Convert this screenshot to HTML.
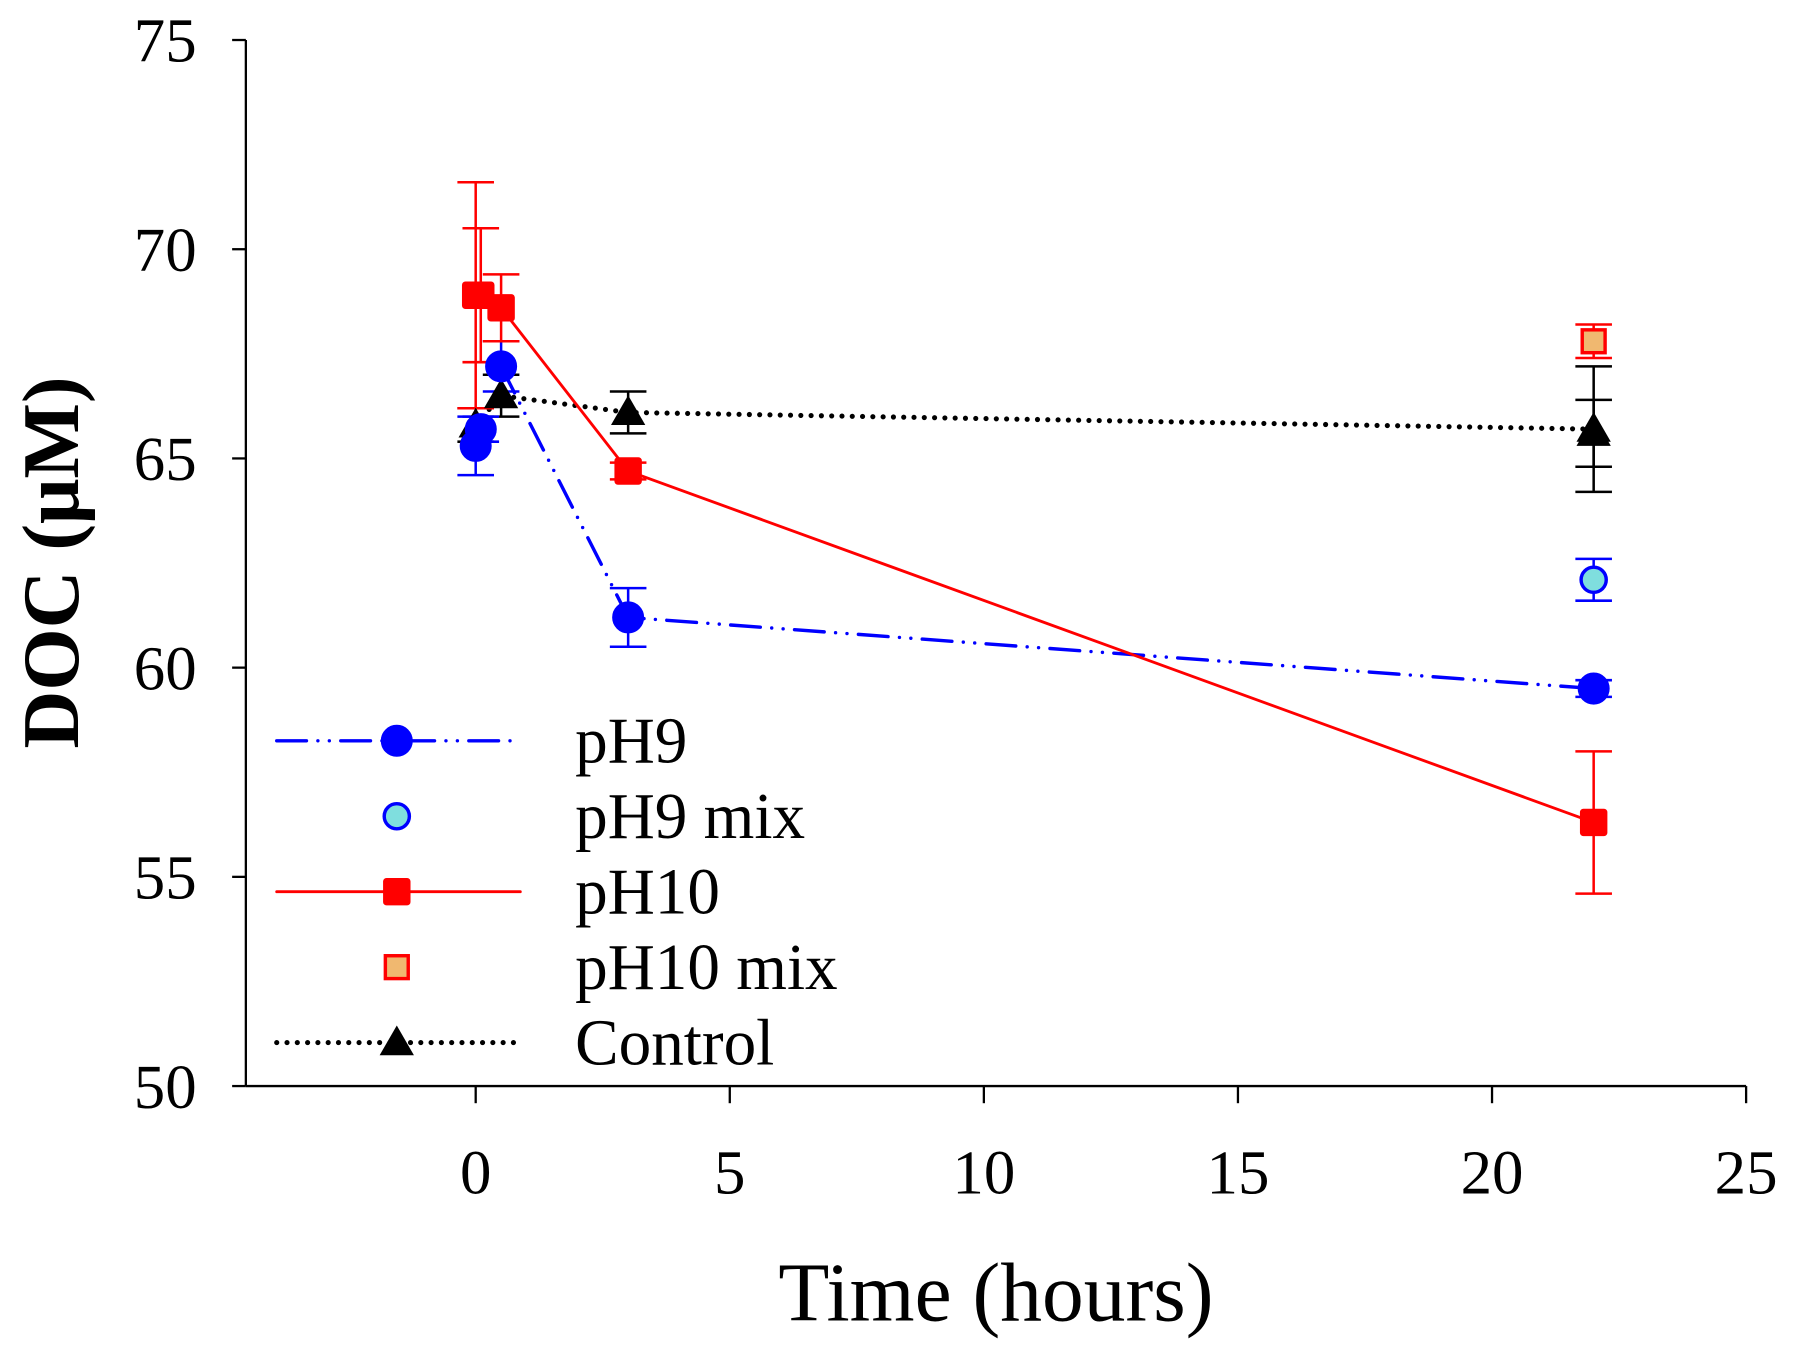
<!DOCTYPE html>
<html><head><meta charset="utf-8"><style>html,body{margin:0;padding:0;background:#fff}svg{display:block}</style></head>
<body>
<svg id="chart" width="1793" height="1357" viewBox="0 0 1568 1187" preserveAspectRatio="none" xmlns="http://www.w3.org/2000/svg" font-family="'Liberation Serif', serif">
<g id="axes"></g><g id="series"></g><g id="legend"></g>
</svg>
<script>
const xTicks=[0,5,10,15,20,25];
const yTicks=[50,55,60,65,70,75];
const ph9T=[0,0.1,0.5,3,22];
const ph9V=[65.3,65.7,67.2,61.2,59.5];
const ph9E=[0.7,0.3,0.6,0.7,0.2];
const ph10T=[0,0.1,0.5,3,22];
const ph10V=[68.9,68.9,68.6,64.7,56.3];
const ph10E=[2.7,1.6,0.8,0.2,1.7];
const ctrlT=[0,0.5,3,22,22];
const ctrlV=[65.8,66.5,66.1,65.7,65.6];
const ctrlE=[0.4,0.5,0.5,1.5,0.8];
const mix9T=[22],mix9V=[62.1],mix9E=[0.5];
const mix10T=[22],mix10V=[67.8],mix10E=[0.4];
const legendLabels=["pH9","pH9 mix","pH10","pH10 mix","Control"];

const NS="http://www.w3.org/2000/svg";
const X=t=>416+(t-0)*(1527-416)/25;
const Y=v=>950-(v-50)*(950-35)/25;
function mk(tag,attrs,parent,txt){const e=document.createElementNS(NS,tag);for(const k in attrs)e.setAttribute(k,attrs[k]);if(txt!==undefined)e.textContent=txt;parent.appendChild(e);return e;}
const axes=document.getElementById('axes'),ser=document.getElementById('series'),leg=document.getElementById('legend');

let a=mk('line',{x1:215,y1:35,x2:215,y2:950,stroke:'#000','stroke-width':2},axes);


a=mk('line',{x1:215,y1:950,x2:1527,y2:950,stroke:'#000','stroke-width':2},axes);


yTicks.forEach(v=>{mk('line',{x1:203,y1:Y(v),x2:215,y2:Y(v),stroke:'#000','stroke-width':2},axes);
 const t=mk('text',{x:172,y:Y(v)+19,'text-anchor':'end','font-size':55},axes,String(v));
 
 });
xTicks.forEach(v=>{mk('line',{x1:X(v),y1:950,x2:X(v),y2:965,stroke:'#000','stroke-width':2},axes);
 const t=mk('text',{x:X(v),y:1044,'text-anchor':'middle','font-size':55},axes,String(v));
 
 });
let tt=mk('text',{x:871,y:1155,'text-anchor':'middle','font-size':73},axes,'Time (hours)');


tt=mk('text',{x:0,y:0,'text-anchor':'middle','font-size':70,'font-weight':'bold',transform:'translate(68,492) rotate(-90)'},axes,'DOC (μM)');



function errs(T,V,E,col,name){T.forEach((t,i)=>{const g=mk('g',{stroke:col,'stroke-width':2.2},ser);
 
 
 const x=X(t);mk('line',{x1:x,y1:Y(V[i]+E[i]),x2:x,y2:Y(V[i]-E[i])},g);
 mk('line',{x1:x-16,y1:Y(V[i]+E[i]),x2:x+16,y2:Y(V[i]+E[i])},g);
 mk('line',{x1:x-16,y1:Y(V[i]-E[i]),x2:x+16,y2:Y(V[i]-E[i])},g);});}
function line(T,V,col,dash,w,name,from){const pts=T.slice(from).map((t,i)=>X(t)+','+Y(V[i+from])).join(' ');
 const p=mk('polyline',{points:pts,fill:'none',stroke:col,'stroke-width':w,'stroke-dasharray':dash,'stroke-linecap':'round'},ser);
 
 }
function marker(kind,x,y,fill,stroke,parent,name){let m;
 if(kind==='c')m=mk('circle',{cx:x,cy:y,r:13,fill:fill,stroke:stroke,'stroke-width':2},parent);
 if(kind==='cs')m=mk('circle',{cx:x,cy:y,r:11,fill:fill,stroke:stroke,'stroke-width':3},parent);
 if(kind==='s')m=mk('rect',{x:x-11,y:y-11,width:22,height:22,rx:2,fill:fill,stroke:stroke,'stroke-width':2},parent);
 if(kind==='ss')m=mk('rect',{x:x-10,y:y-10,width:20,height:20,fill:fill,stroke:stroke,'stroke-width':3},parent);
 if(kind==='t')m=mk('polygon',{points:`${x},${y-15} ${x+15},${y+11} ${x-15},${y+11}`,fill:fill},parent);
 
 }

line(ctrlT.slice(0,4),ctrlV,'#000','0 9',4.5,'control',0);
line(ph9T,ph9V,'#0000ff','26 10 0 10 0 10',3,'ph9',2);
line(ph10T,ph10V,'#ff0000','',2.5,'ph10',1);
errs(ctrlT,ctrlV,ctrlE,'#000','control');
errs(ph9T,ph9V,ph9E,'#0000ff','ph9');
errs(ph10T,ph10V,ph10E,'#ff0000','ph10');
errs(mix9T,mix9V,mix9E,'#0000ff','ph9-mix');
errs(mix10T,mix10V,mix10E,'#ff0000','ph10-mix');
ctrlT.forEach((t,i)=>marker('t',X(t),Y(ctrlV[i]),'#000','#000',ser,'control-point'));
ph9T.forEach((t,i)=>marker('c',X(t),Y(ph9V[i]),'#0000ff','#0000ff',ser,'ph9-point'));
ph10T.forEach((t,i)=>marker('s',X(t),Y(ph10V[i]),'#ff0000','#ff0000',ser,'ph10-point'));
mix9T.forEach((t,i)=>marker('cs',X(t),Y(mix9V[i]),'#7fdede','#0000ff',ser,'ph9-mix-point'));
mix10T.forEach((t,i)=>marker('ss',X(t),Y(mix10V[i]),'#f0b870','#ff0000',ser,'ph10-mix-point'));

const rows=[648,714,780,846,912];
const kinds=['c','cs','s','ss','t'],fills=['#0000ff','#7fdede','#ff0000','#f0b870','#000'],strokes=['#0000ff','#0000ff','#ff0000','#ff0000','#000'];
const lstyles=[['#0000ff','26 10 0 10 0 10',3],null,['#ff0000','',2.5],null,['#000','0 9',4.5]];
legendLabels.forEach((lab,i)=>{const g=mk('g',{},leg);
 
 
 if(lstyles[i])mk('line',{x1:242,y1:rows[i],x2:455,y2:rows[i],stroke:lstyles[i][0],'stroke-dasharray':lstyles[i][1],'stroke-width':lstyles[i][2],'stroke-linecap':'round'},g);
 marker(kinds[i],347,rows[i],fills[i],strokes[i],g,'legend-marker');
 mk('text',{x:503,y:rows[i]+19,'font-size':57},g,lab);});
</script>
</body></html>
